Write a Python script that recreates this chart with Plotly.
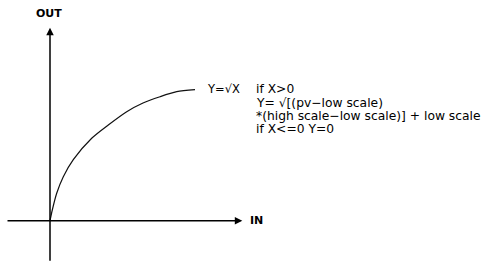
import plotly.graph_objects as go

# Curve points (x = input, y = output, arbitrary units)
curve_x = [0, 2.3, 6.7, 13.3, 23.3, 41.7, 58.3, 76.7, 93, 110, 126.7, 145]
curve_y = [0, 10.7, 27.4, 44, 61, 82.4, 95.7, 109, 117.7, 124, 129, 131]

x_axis_label = "IN"
y_axis_label = "OUT"
curve_label = "Y=√X"
formula_lines = [
    "if X>0",
    "Y= √[(pv−low scale)",
    "*(high scale−low scale)] + low scale",
    "if X<=0 Y=0",
]

FONT = "DejaVu Sans"

fig = go.Figure()
fig.add_trace(go.Scatter(
    x=curve_x, y=curve_y, mode="lines",
    line=dict(color="#111111", width=1.2, shape="spline", smoothing=0.8),
    hoverinfo="skip", showlegend=False,
))

# Axes with arrows
fig.add_annotation(x=0, y=193, ax=0, ay=-41.6, xref="x", yref="y", axref="x", ayref="y",
                   text="", showarrow=True, arrowhead=2, arrowsize=1, arrowwidth=1.5,
                   arrowcolor="black")
fig.add_annotation(x=192.3, y=0, ax=-44, ay=0, xref="x", yref="y", axref="x", ayref="y",
                   text="", showarrow=True, arrowhead=2, arrowsize=1, arrowwidth=1.5,
                   arrowcolor="black")

# Labels
fig.add_annotation(x=-1, y=207.7, text="<b>" + y_axis_label + "</b>", showarrow=False,
                   xanchor="center", yanchor="middle", font=dict(family=FONT, size=11, color="black"))
fig.add_annotation(x=197.5, y=0.3, text="<b>" + x_axis_label + "</b>", showarrow=False,
                   xanchor="left", yanchor="middle", font=dict(family=FONT, size=11, color="black"))
fig.add_annotation(x=155, y=131.4, text=curve_label, showarrow=False,
                   xanchor="left", yanchor="middle", font=dict(family=FONT, size=11.5, color="black"))

line_ys = [131.4, 118, 104.7, 91.4]
for txt, yy in zip(formula_lines, line_ys):
    fig.add_annotation(x=203.8, y=yy, text=txt, showarrow=False,
                       xanchor="left", yanchor="middle",
                       font=dict(family=FONT, size=12.3, color="black"))

fig.update_xaxes(range=[-50, 437], visible=False, fixedrange=True)
fig.update_yaxes(range=[-42.3, 220.7], visible=False, fixedrange=True)
fig.update_layout(
    width=487, height=263, autosize=False,
    margin=dict(l=0, r=0, t=0, b=0, pad=0),
    paper_bgcolor="white", plot_bgcolor="white",
    showlegend=False,
)
fig.write_html("out.html", config={"displayModeBar": False},
               post_script="document.body.style.margin='0';document.body.style.padding='0';")
